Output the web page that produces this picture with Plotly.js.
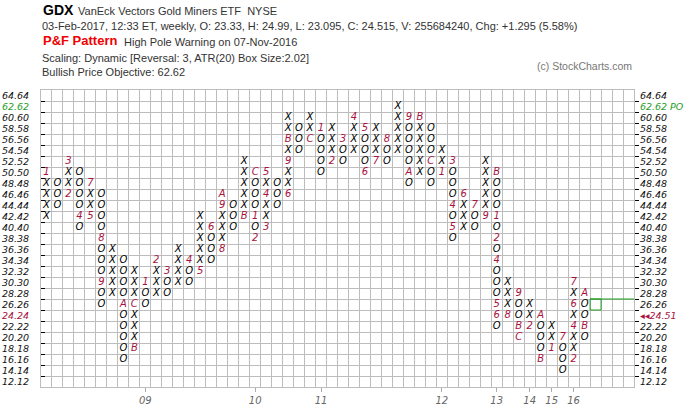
<!DOCTYPE html>
<html>
<head>
<meta charset="utf-8">
<script src="https://cdn.plot.ly/plotly-3.0.1.min.js"></script>
<style>body{margin:0;background:#fff}#chart{width:700px;height:420px}</style>
</head>
<body>
<div id="chart"></div>
<script>
// ---------------- data ----------------
const boxSize = 2.02;
const priceLevels = [12.12,14.14,16.16,18.18,20.20,22.22,24.24,26.26,28.28,30.30,32.32,34.34,36.36,38.38,40.40,42.42,44.44,46.46,48.48,50.50,52.52,54.54,56.56,58.58,60.60,62.62,64.64];
const colTypes = ['X','O','X','O','X','O','X','O','X','O','X','O','X','O','X','O','X','O','X','O','X','O','X','O','X','O','X','O','X','O','X','O','X','O','X','O','X','O','X','O','X','O','X','O','X','O','X','O','X','O'];
const colLows  = [42.42,44.44,46.46,40.40,42.42,26.26,28.28,16.16,18.18,26.26,28.28,28.28,30.30,30.30,32.32,34.34,36.36,40.40,42.42,38.38,40.40,44.44,46.46,54.54,56.56,50.50,52.52,52.52,54.54,50.50,52.52,52.52,54.54,48.48,50.50,48.48,50.50,38.38,40.40,40.40,42.42,22.22,24.24,20.20,22.22,16.16,18.18,14.14,16.16,20.20];
const colHighs = [50.50,48.48,52.52,50.50,48.48,46.46,36.36,34.34,32.32,30.30,34.34,32.32,36.36,34.34,42.42,40.40,46.46,44.44,52.52,50.50,50.50,48.48,60.60,58.58,60.60,58.58,58.58,56.56,60.60,58.58,58.58,56.56,62.62,60.60,60.60,58.58,54.54,52.52,46.46,44.44,52.52,50.50,30.30,28.28,26.26,24.24,22.22,20.20,30.30,28.28];
// month markers: column, price, label
const monthCols   = [0,2,2,3,4,4,5,5,7,8,8,9,10,11,13,14,15,16,16,16,18,19,19,19,20,20,20,22,22,22,24,25,26,27,28,29,29,30,31,33,33,34,35,36,37,37,37,38,39,40,41,41,41,41,41,41,42,43,43,43,44,45,45,46,47,48,48,48,48,49,49];
const monthPrices = [50.50,46.46,52.52,42.42,42.42,48.48,38.38,30.30,26.26,18.18,26.26,30.30,34.34,32.32,34.34,32.32,40.40,36.36,44.44,46.46,42.42,50.50,42.42,38.38,40.40,46.46,50.50,46.46,52.52,56.56,56.56,58.58,52.52,56.56,60.60,58.58,50.50,52.52,56.56,60.60,50.50,60.60,52.52,50.50,52.52,44.44,40.40,46.46,44.44,42.42,50.50,42.42,38.38,34.34,26.26,24.24,24.24,28.28,22.22,20.20,22.22,24.24,16.16,18.18,20.20,16.16,22.22,26.26,30.30,28.28,22.22];
const monthLabels = ['1','2','3','4','5','7','8','9','A','B','C','1','2','3','4','5','6','8','9','A','B','C','1','2','3','4','5','6','9','B','C','1','2','3','4','5','6','7','8','9','A','B','C','1','3','4','5','6','7','9','B','1','2','4','5','6','8','9','B','C','2','A','B','1','7','2','4','6','7','A','B'];
const yearCols   = [9,19,25,36,41,44,46,48];
const yearLabels = ['09','10','11','12','13','14','15','16'];
const totalCols = 54;
const currentPrice = 24.515;
const priceObjective = 62.62;
const reversal = 3;

// ---------------- build ----------------
const rowOf = p => Math.round((p - priceLevels[0]) / boxSize);
const monthMap = {};
monthCols.forEach((c, i) => { monthMap[c + '_' + rowOf(monthPrices[i])] = monthLabels[i]; });

const xoX = [], xoY = [], xoT = [], mX = [], mY = [], mT = [];
colTypes.forEach((t, c) => {
  for (let r = rowOf(colLows[c]); r <= rowOf(colHighs[c]); r++) {
    const k = c + '_' + r;
    if (monthMap[k]) { mX.push(c); mY.push(r); mT.push(monthMap[k]); }
    else { xoX.push(c); xoY.push(r); xoT.push(t); }
  }
});

const crimson = '#a8123e';
const green = '#1f9e1f';
const curRow = rowOf(currentPrice);
const poRow = rowOf(priceObjective);
const rowIdx = priceLevels.map((v, i) => i);
const curText = (Math.floor(currentPrice * 100 + 1e-9) / 100).toFixed(2);
const leftText = priceLevels.map((v, i) => {
  const s = v.toFixed(2);
  if (i === poRow) return '<span style="color:' + green + '">' + s + '</span>';
  if (i === curRow) return '<span style="color:' + crimson + '">' + s + '</span>';
  return s;
});
const rightText = priceLevels.map((v, i) => {
  const s = v.toFixed(2);
  if (i === poRow) return '<span style="color:' + green + '">' + s + ' PO</span>';
  if (i === curRow) return '<span style="color:' + crimson + '">\u25C2\u25C2' + curText + '</span>';
  return s;
});
const rowBounds = priceLevels.slice(1).map((v, i) => i + 0.5);
const colBounds = [];
for (let c = 0; c <= totalCols; c++) colBounds.push(c - 0.5);

const lastCol = colTypes.length - 1;
const revCol = lastCol + 1;
const revRow = colTypes[lastCol] === 'O' ? rowOf(colLows[lastCol]) + reversal : rowOf(colHighs[lastCol]) - reversal;

const markFont = {family: 'DejaVu Sans', size: 10, style: 'italic'};
const traces = [
  {x: xoX, y: xoY, text: xoT, mode: 'text', type: 'scatter', textposition: 'middle center',
   textfont: Object.assign({color: '#000'}, markFont), hoverinfo: 'skip', showlegend: false},
  {x: mX, y: mY, text: mT, mode: 'text', type: 'scatter', textposition: 'middle center',
   textfont: Object.assign({color: crimson}, markFont), hoverinfo: 'skip', showlegend: false},
  {x: [lastCol], y: [curRow], mode: 'markers', type: 'scatter', yaxis: 'y2',
   marker: {opacity: 0}, hoverinfo: 'skip', showlegend: false}
];

const L = 41, R = 66, T = 90, B = 33, PW = 700 - L - R, PH = 420 - T - B;
const tickFont = {family: 'DejaVu Sans', size: 9.5, style: 'italic', color: '#111'};
const gridColor = '#bdbdbd';
const yCommon = {
  range: [-0.5, priceLevels.length - 0.5], autorange: false, fixedrange: true,
  tickmode: 'array', tickvals: rowIdx, showgrid: false, zeroline: false,
  showline: true, linecolor: gridColor, linewidth: 1, tickfont: tickFont
};

function ann(text, px, py, font, anchor) {
  return {text: text, xref: 'paper', yref: 'paper', x: (px - L) / PW, y: (420 - B - py) / PH,
    xanchor: anchor || 'left', yanchor: 'middle', showarrow: false, borderpad: 0,
    font: Object.assign({family: 'Liberation Sans, Arial', size: 11, color: '#333'}, font || {})};
}

const layout = {
  width: 700, height: 420,
  margin: {l: L, r: R, t: T, b: B, pad: 0},
  paper_bgcolor: '#fff', plot_bgcolor: '#fff',
  showlegend: false,
  xaxis: {
    range: [-0.5, totalCols - 0.5], autorange: false, fixedrange: true,
    tickmode: 'array', tickvals: yearCols, ticktext: yearLabels,
    ticks: 'outside', ticklen: 4, tickcolor: '#aaa', tickwidth: 1,
    tickfont: {family: 'DejaVu Sans', size: 10, style: 'italic', color: '#666'},
    showgrid: false, zeroline: false, showline: true, linecolor: gridColor, mirror: true,
    minor: {tickmode: 'array', tickvals: colBounds, showgrid: true, gridcolor: gridColor, gridwidth: 1, ticks: ''}
  },
  yaxis: Object.assign({}, yCommon, {
    side: 'left', ticktext: leftText,
    ticks: 'outside', ticklen: 9, tickcolor: 'rgba(0,0,0,0)',
    minor: {tickmode: 'array', tickvals: rowBounds, showgrid: true, gridcolor: gridColor, gridwidth: 1,
            ticks: 'inside', ticklen: 4, tickcolor: '#000', tickwidth: 1}
  }),
  yaxis2: Object.assign({}, yCommon, {
    overlaying: 'y', side: 'right', ticktext: rightText,
    ticks: 'outside', ticklen: 3, tickcolor: 'rgba(0,0,0,0)',
    minor: {tickmode: 'array', tickvals: rowBounds, showgrid: false,
            ticks: 'outside', ticklen: 4, tickcolor: '#000', tickwidth: 1}
  }),
  shapes: [
    {type: 'rect', xref: 'x', yref: 'y', x0: revCol - 0.5, x1: revCol + 0.5, y0: revRow - 0.5, y1: revRow + 0.5,
     line: {color: green, width: 1}, fillcolor: 'rgba(0,0,0,0)'},
    {type: 'line', xref: 'x', yref: 'y', x0: revCol - 0.5, x1: totalCols - 0.5, y0: revRow + 0.5, y1: revRow + 0.5,
     line: {color: green, width: 1}}
  ],
  annotations: [
    ann('<b>GDX</b>', 42, 10, {size: 14, color: '#000'}),
    ann('VanEck Vectors Gold Miners ETF  NYSE', 77, 11, {size: 11}),
    ann('03-Feb-2017, 12:33 ET, weekly, O: 23.33, H: 24.99, L: 23.095, C: 24.515, V: 255684240, Chg: +1.295 (5.58%)', 41, 25.5, {size: 11}),
    ann('<b>P&F Pattern</b>', 42, 41, {size: 13, color: '#f00000'}),
    ann('High Pole Warning on 07-Nov-2016', 123, 41.5, {size: 11}),
    ann('Scaling: Dynamic [Reversal: 3, ATR(20) Box Size:2.02]', 41, 57.5, {size: 11}),
    ann('Bullish Price Objective: 62.62', 41, 71.5, {size: 11}),
    ann('(c) StockCharts.com', 633, 66, {size: 10.5, color: '#777'}, 'right')
  ]
};

Plotly.newPlot('chart', traces, layout, {staticPlot: true, displayModeBar: false});
</script>
</body>
</html>
